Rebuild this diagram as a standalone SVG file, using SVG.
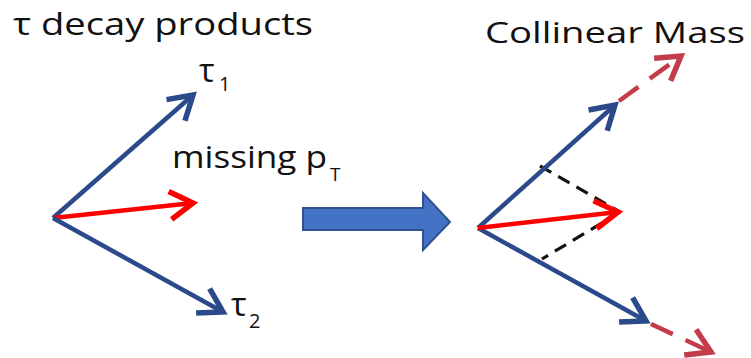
<svg xmlns="http://www.w3.org/2000/svg" width="751" height="358" viewBox="0 0 751 358">
<style>
.t{font-family:"Open Sans","Liberation Sans",sans-serif;fill:#111;}
.b{stroke:#2b4a8b;stroke-width:4.5;fill:none;}
.r{stroke:#ff0000;stroke-width:4.5;fill:none;}
.rd{stroke:#c43c4a;stroke-width:4.5;fill:none;stroke-dasharray:24 14;}
.k{stroke:#111;stroke-width:3.2;fill:none;stroke-dasharray:13 8;}
</style>
<defs>
<marker id="mb" markerUnits="userSpaceOnUse" viewBox="-30 -20 36 40" markerWidth="36" markerHeight="40" refX="0" refY="0" orient="auto">
<path d="M-23,-14 L0,0 L-23,14" fill="none" stroke="#2b4a8b" stroke-width="5.5"/>
</marker>
<marker id="mr" markerUnits="userSpaceOnUse" viewBox="-30 -20 36 40" markerWidth="36" markerHeight="40" refX="0" refY="0" orient="auto">
<path d="M-23,-14 L0,0 L-23,14" fill="none" stroke="#ff0000" stroke-width="5.5"/>
</marker>
<marker id="md" markerUnits="userSpaceOnUse" viewBox="-30 -20 36 40" markerWidth="36" markerHeight="40" refX="0" refY="0" orient="auto">
<path d="M-23,-14 L0,0 L-23,14" fill="none" stroke="#c43c4a" stroke-width="5.5"/>
</marker>
</defs>
<g id="title-left">
<text class="t" x="13" y="35" font-size="31" textLength="300" lengthAdjust="spacingAndGlyphs">τ decay products</text>
</g>
<g id="title-right">
<text class="t" x="485" y="43" font-size="29" textLength="260" lengthAdjust="spacingAndGlyphs">Collinear Mass</text>
</g>
<g id="label-tau1">
<text class="t" x="199" y="82" font-size="33">τ</text>
<text class="t" x="219" y="91" font-size="20">1</text>
</g>
<g id="label-tau2">
<text class="t" x="231" y="316" font-size="33">τ</text>
<text class="t" x="249" y="328" font-size="20">2</text>
</g>
<g id="label-met">
<text class="t" x="172" y="168" font-size="31" textLength="155" lengthAdjust="spacingAndGlyphs">missing p</text>
<text class="t" x="330" y="181" font-size="19">T</text>
</g>
<g id="big-arrow">
<path d="M303,208 L423,208 L423,193 L450,222 L423,250 L423,230 L303,230 Z" fill="#4472c4" stroke="#2f528f" stroke-width="2"/>
</g>
<g id="connectors">
<line class="b" x1="53" y1="218" x2="193" y2="95" marker-end="url(#mb)"/>
<line class="r" x1="53" y1="218" x2="193" y2="203" marker-end="url(#mr)"/>
<line class="b" x1="53" y1="218" x2="223" y2="312" marker-end="url(#mb)"/>
<line class="k" x1="540" y1="166" x2="620" y2="212"/>
<line class="k" x1="620" y1="212" x2="542" y2="259"/>
<line class="b" x1="478" y1="228" x2="615" y2="105" marker-end="url(#mb)"/>
<line class="b" x1="478" y1="228" x2="646" y2="321" marker-end="url(#mb)"/>
<line class="r" x1="478" y1="228" x2="618" y2="212" marker-end="url(#mr)"/>
<line class="rd" x1="619" y1="101" x2="681" y2="56" marker-end="url(#md)"/>
<line class="rd" x1="651" y1="324" x2="711" y2="352" marker-end="url(#md)"/>
</g>
</svg>
